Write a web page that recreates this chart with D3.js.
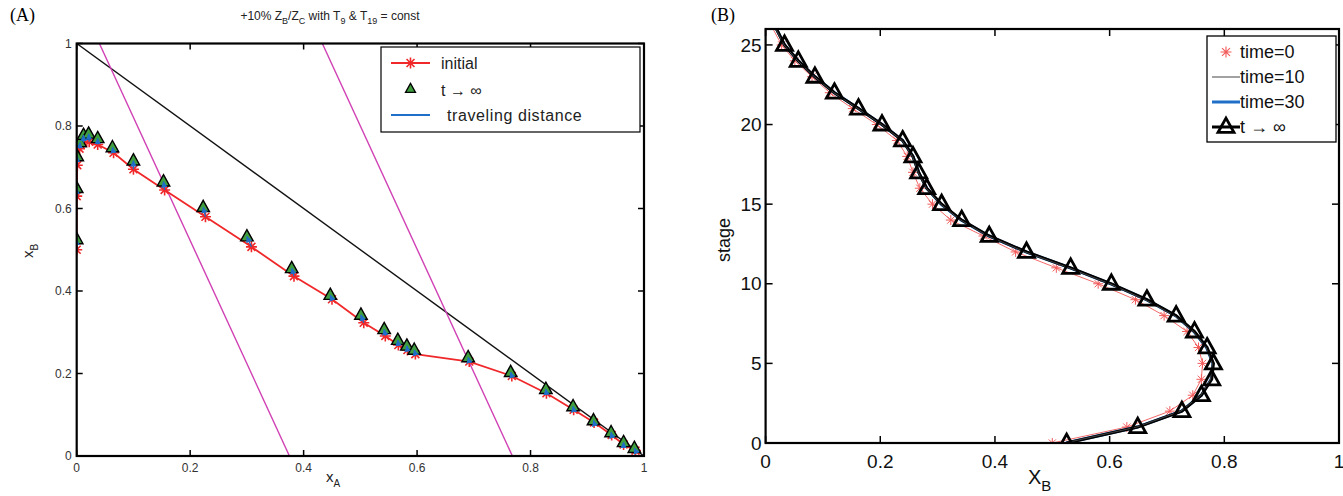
<!DOCTYPE html>
<html>
<head>
<meta charset="utf-8">
<script src="https://cdn.jsdelivr.net/npm/d3@7"></script>
<style>
  body { margin: 0; background: #fff; }
  svg text { font-family: "Liberation Sans", Arial, sans-serif; }
  svg text.serif { font-family: "Liberation Serif", "Times New Roman", serif; }
</style>
</head>
<body>
<svg id="chart" width="1343" height="496"></svg>
<script>
// ---- data: panel (A), composition path x_A / x_B per stage ----
const stages = d3.range(0, 27);
const initA = [0, 0, 0.001, 0.005, 0.012, 0.022, 0.037, 0.065, 0.10, 0.155, 0.227, 0.308, 0.383, 0.45, 0.506, 0.544, 0.567, 0.583, 0.597, 0.692, 0.767, 0.828, 0.876, 0.912, 0.943, 0.964, 0.985];
const initB = [0.50, 0.63, 0.705, 0.745, 0.76, 0.762, 0.755, 0.735, 0.695, 0.645, 0.58, 0.507, 0.436, 0.38, 0.323, 0.291, 0.269, 0.257, 0.247, 0.229, 0.194, 0.152, 0.112, 0.081, 0.051, 0.028, 0.013];
const finalA = [0, 0, 0.001, 0.006, 0.012, 0.021, 0.037, 0.063, 0.10, 0.153, 0.223, 0.30, 0.379, 0.447, 0.501, 0.542, 0.566, 0.582, 0.595, 0.69, 0.765, 0.827, 0.875, 0.911, 0.942, 0.964, 0.983];
const finalB = [0.525, 0.649, 0.726, 0.76, 0.778, 0.781, 0.77, 0.748, 0.716, 0.665, 0.603, 0.532, 0.455, 0.39, 0.342, 0.307, 0.281, 0.267, 0.257, 0.239, 0.203, 0.162, 0.12, 0.086, 0.057, 0.033, 0.019];
// panel (B) intermediate profiles
const time10B = [0.522, 0.647, 0.724, 0.759, 0.776, 0.779, 0.768, 0.746, 0.713, 0.662, 0.600, 0.529, 0.452, 0.388, 0.340, 0.305, 0.280, 0.266, 0.256, 0.238, 0.202, 0.161, 0.119, 0.085, 0.056, 0.032, 0.018];
const time30B = [0.524, 0.648, 0.725, 0.76, 0.777, 0.78, 0.769, 0.747, 0.715, 0.664, 0.602, 0.531, 0.454, 0.389, 0.341, 0.306, 0.281, 0.267, 0.257, 0.239, 0.203, 0.162, 0.12, 0.086, 0.057, 0.033, 0.019];
// reference lines in (A)
const diagLine = [[0, 1], [1, 0]];
const magentaLines = [[[0.04, 1], [0.375, 0]], [[0.433, 1], [0.768, 0]]];
const tickA = [0, 0.2, 0.4, 0.6, 0.8, 1];
const tickStage = [0, 5, 10, 15, 20, 25];

const svg = d3.select("#chart");
const red = "#f0282a", green = "#3f9c3f", blue = "#1f6fc8", magenta = "#d040b4";

function starPath(r) {
  const d = r * 0.72;
  return `M${-r},0L${r},0M0,${-r}L0,${r}M${-d},${-d}L${d},${d}M${-d},${d}L${d},${-d}`;
}
function triPath(s) {
  const h = s * 0.9;
  return `M0,${-h * 0.62}L${s / 2},${h * 0.38}L${-s / 2},${h * 0.38}Z`;
}

// boxed axes, inward ticks on all sides
function frame(g, x, y, xt, yt, opt) {
  const [x0, x1] = x.range(), [y0, y1] = y.range();
  xt.forEach(t => {
    g.append("line").attr("x1", x(t)).attr("x2", x(t)).attr("y1", y0).attr("y2", y0 - opt.tick).attr("stroke", "#000").attr("stroke-width", 1.5);
    g.append("line").attr("x1", x(t)).attr("x2", x(t)).attr("y1", y1).attr("y2", y1 + opt.tick).attr("stroke", "#000").attr("stroke-width", 1.5);
    g.append("text").attr("x", x(t)).attr("y", y0 + opt.xlabDy).attr("text-anchor", "middle")
      .attr("font-size", opt.fs).attr("fill", opt.col).text(String(t));
  });
  yt.forEach(t => {
    g.append("line").attr("x1", x0).attr("x2", x0 + opt.tick).attr("y1", y(t)).attr("y2", y(t)).attr("stroke", "#000").attr("stroke-width", 1.5);
    g.append("line").attr("x1", x1).attr("x2", x1 - opt.tick).attr("y1", y(t)).attr("y2", y(t)).attr("stroke", "#000").attr("stroke-width", 1.5);
    g.append("text").attr("x", x0 - opt.ylabDx).attr("y", y(t)).attr("dy", "0.35em").attr("text-anchor", "end")
      .attr("font-size", opt.fs).attr("fill", opt.col).text(String(t));
  });
  g.append("rect").attr("x", x0).attr("y", y1).attr("width", x1 - x0).attr("height", y0 - y1)
    .attr("fill", "none").attr("stroke", "#000").attr("stroke-width", 2.2);
}

// ================= panel (A) =================
const xL = d3.scaleLinear().domain([0, 1]).range([76.7, 644]);
const yL = d3.scaleLinear().domain([0, 1]).range([456, 43.5]);
const gA = svg.append("g");

gA.append("text").attr("class", "serif").attr("x", 10).attr("y", 21).attr("font-size", 18).text("(A)");

const title = gA.append("text").attr("x", 330).attr("y", 20).attr("text-anchor", "middle").attr("font-size", 12).attr("fill", "#222");
title.append("tspan").text("+10% Z");
title.append("tspan").attr("dy", 4).attr("font-size", 9).text("B");
title.append("tspan").attr("dy", -4).text("/Z");
title.append("tspan").attr("dy", 4).attr("font-size", 9).text("C");
title.append("tspan").attr("dy", -4).text(" with T");
title.append("tspan").attr("dy", 4).attr("font-size", 9).text("9");
title.append("tspan").attr("dy", -4).text(" & T");
title.append("tspan").attr("dy", 4).attr("font-size", 9).text("19");
title.append("tspan").attr("dy", -4).text(" = const");

const lineA = d3.line().x(d => xL(d[0])).y(d => yL(d[1]));
gA.append("clipPath").attr("id", "clipA").append("rect")
  .attr("x", 76.7).attr("y", 43.5).attr("width", 644 - 76.7).attr("height", 456 - 43.5);
const plotA = gA.append("g").attr("clip-path", "url(#clipA)");

plotA.append("path").attr("d", lineA(diagLine)).attr("fill", "none").attr("stroke", "#111").attr("stroke-width", 1.4);
magentaLines.forEach(l => plotA.append("path").attr("d", lineA(l)).attr("fill", "none").attr("stroke", magenta).attr("stroke-width", 1.4));

const initPts = initA.map((a, i) => [a, initB[i]]);
const finalPts = finalA.map((a, i) => [a, finalB[i]]);

plotA.append("path").attr("d", lineA(initPts)).attr("fill", "none").attr("stroke", red).attr("stroke-width", 1.8);
plotA.selectAll(".st").data(initPts).join("path")
  .attr("transform", d => `translate(${xL(d[0])},${yL(d[1])})`)
  .attr("d", starPath(5.5)).attr("stroke", red).attr("stroke-width", 1.6).attr("fill", "none");
plotA.selectAll(".tr").data(finalPts).join("path")
  .attr("transform", d => `translate(${xL(d[0])},${yL(d[1])})`)
  .attr("d", triPath(12.5)).attr("fill", green).attr("stroke", "#000").attr("stroke-width", 1.4);

// traveling distance arrows
svg.append("defs").append("marker").attr("id", "arr").attr("viewBox", "0 0 10 10")
  .attr("refX", 9).attr("refY", 5).attr("markerWidth", 5).attr("markerHeight", 5).attr("orient", "auto")
  .append("path").attr("d", "M0,0L10,5L0,10Z").attr("fill", blue);
plotA.selectAll(".ar").data(initPts).join("line")
  .attr("x1", d => xL(d[0])).attr("y1", d => yL(d[1]))
  .attr("x2", (d, i) => xL(finalA[i])).attr("y2", (d, i) => yL(finalB[i]))
  .attr("stroke", blue).attr("stroke-width", 1.3).attr("marker-end", "url(#arr)");

frame(gA, xL, yL, tickA, tickA, { tick: 6, fs: 12, col: "#333", xlabDy: 16, ylabDx: 5 });

const xa = gA.append("text").attr("x", 326).attr("y", 482).attr("font-size", 15).attr("fill", "#222");
xa.append("tspan").text("x");
xa.append("tspan").attr("dy", 5).attr("font-size", 10).text("A");
const ya = gA.append("text").attr("transform", "translate(33,258) rotate(-90)").attr("font-size", 15).attr("fill", "#222");
ya.append("tspan").text("x");
ya.append("tspan").attr("dy", 5).attr("font-size", 10).text("B");

// legend (A)
const lgA = gA.append("g");
lgA.append("rect").attr("x", 381).attr("y", 47).attr("width", 259).attr("height", 85).attr("fill", "#fff").attr("stroke", "#000").attr("stroke-width", 1.2);
lgA.append("line").attr("x1", 391).attr("x2", 430).attr("y1", 63).attr("y2", 63).attr("stroke", red).attr("stroke-width", 1.8);
lgA.append("path").attr("transform", "translate(410.5,63)").attr("d", starPath(5.5)).attr("stroke", red).attr("stroke-width", 1.6);
lgA.append("path").attr("transform", "translate(410.5,89)").attr("d", triPath(10)).attr("fill", green).attr("stroke", "#000").attr("stroke-width", 1.3);
lgA.append("line").attr("x1", 391).attr("x2", 430).attr("y1", 115).attr("y2", 115).attr("stroke", blue).attr("stroke-width", 1.8);
lgA.append("text").attr("x", 441).attr("y", 69).attr("font-size", 16).attr("fill", "#222").text("initial");
lgA.append("text").attr("x", 441).attr("y", 96).attr("font-size", 16).attr("fill", "#222").text("t \u2192  \u221e");
lgA.append("text").attr("x", 447).attr("y", 121).attr("font-size", 16).attr("fill", "#222").attr("letter-spacing", 0.6).text("traveling distance");

// ================= panel (B) =================
const xR = d3.scaleLinear().domain([0, 1]).range([765.6, 1339]);
const yR = d3.scaleLinear().domain([0, 26]).range([443, 29]);
const gB = svg.append("g");

gB.append("text").attr("class", "serif").attr("x", 711).attr("y", 21).attr("font-size", 18).text("(B)");

gB.append("clipPath").attr("id", "clipB").append("rect")
  .attr("x", 765.6).attr("y", 29).attr("width", 1339 - 765.6).attr("height", 443 - 29);
const plotB = gB.append("g").attr("clip-path", "url(#clipB)");
const lineB = d3.line().x(d => xR(d[0])).y(d => yR(d[1]));

const p0 = initB.map((b, i) => [b, stages[i]]);
const p10 = time10B.map((b, i) => [b, stages[i]]);
const p30 = time30B.map((b, i) => [b, stages[i]]);
const pInf = finalB.map((b, i) => [b, stages[i]]);
const inView = d => d[1] <= 25.5; // markers on the top edge are hidden

plotB.append("path").attr("d", lineB(p0)).attr("fill", "none").attr("stroke", "#f26a6a").attr("stroke-width", 1);
plotB.selectAll(".s0").data(p0.filter(inView)).join("path")
  .attr("transform", d => `translate(${xR(d[0])},${yR(d[1])})`)
  .attr("d", starPath(5)).attr("stroke", "#f25a5a").attr("stroke-width", 1);
plotB.append("path").attr("d", lineB(p30)).attr("fill", "none").attr("stroke", blue).attr("stroke-width", 3);
plotB.append("path").attr("d", lineB(pInf)).attr("fill", "none").attr("stroke", "#000").attr("stroke-width", 3);
plotB.append("path").attr("d", lineB(p10)).attr("fill", "none").attr("stroke", "#444").attr("stroke-width", 1);
plotB.selectAll(".ti").data(pInf.filter(inView)).join("path")
  .attr("transform", d => `translate(${xR(d[0])},${yR(d[1])})`)
  .attr("d", triPath(16)).attr("fill", "none").attr("stroke", "#000").attr("stroke-width", 2.8);

frame(gB, xR, yR, tickA, tickStage, { tick: 7, fs: 19, col: "#111", xlabDy: 25, ylabDx: 4 });

gB.append("text").attr("transform", "translate(730,240) rotate(-90)").attr("text-anchor", "middle").attr("font-size", 18).attr("fill", "#111").text("stage");
const xb = gB.append("text").attr("x", 1028).attr("y", 484).attr("font-size", 20).attr("fill", "#111");
xb.append("tspan").text("X");
xb.append("tspan").attr("dy", 7).attr("font-size", 15).text("B");

// legend (B)
const lgB = gB.append("g");
lgB.append("rect").attr("x", 1207).attr("y", 36).attr("width", 129).attr("height", 106).attr("fill", "#fff").attr("stroke", "#000").attr("stroke-width", 1.3);
const rowsB = [52, 77, 102, 127];
lgB.append("path").attr("transform", `translate(1226,${rowsB[0]})`).attr("d", starPath(5.5)).attr("stroke", "#f25a5a").attr("stroke-width", 1.1);
lgB.append("line").attr("x1", 1212).attr("x2", 1240).attr("y1", rowsB[1]).attr("y2", rowsB[1]).attr("stroke", "#444").attr("stroke-width", 1);
lgB.append("line").attr("x1", 1212).attr("x2", 1240).attr("y1", rowsB[2]).attr("y2", rowsB[2]).attr("stroke", blue).attr("stroke-width", 3);
lgB.append("line").attr("x1", 1212).attr("x2", 1240).attr("y1", rowsB[3]).attr("y2", rowsB[3]).attr("stroke", "#000").attr("stroke-width", 3);
lgB.append("path").attr("transform", `translate(1226,${rowsB[3]})`).attr("d", triPath(16)).attr("fill", "none").attr("stroke", "#000").attr("stroke-width", 2.8);
["time=0", "time=10", "time=30", "t \u2192 \u221e"].forEach((t, i) => {
  lgB.append("text").attr("x", 1240).attr("y", rowsB[i]).attr("dy", "0.36em").attr("font-size", 18).attr("fill", "#111").text(t);
});
</script>
</body>
</html>
